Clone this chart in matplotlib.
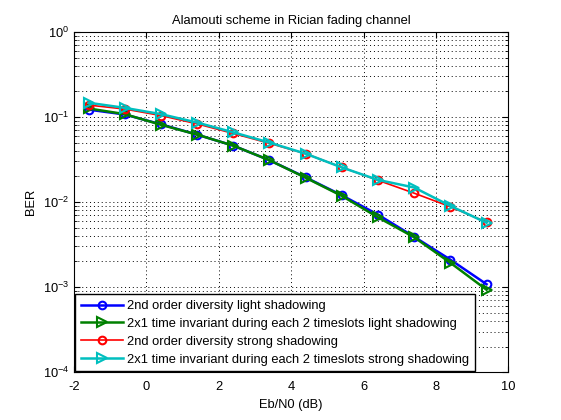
import matplotlib
matplotlib.use("Agg")
import matplotlib.pyplot as plt
from matplotlib.ticker import LogLocator, NullFormatter, FixedLocator

plt.rcParams.update({
    "font.family": ["Liberation Sans", "DejaVu Sans"],
    "font.size": 9.3,
    "mathtext.default": "regular",
    "axes.unicode_minus": False,
    "xtick.direction": "in",
    "ytick.direction": "in",
    "xtick.top": True,
    "ytick.right": True,
    "ytick.minor.size": 2.5,
    "xtick.major.size": 4,
    "ytick.major.size": 4,
    "xtick.major.pad": 6.5,
})

ebn0 = [-1.6, -0.6, 0.4, 1.4, 2.4, 3.4, 4.4, 5.4, 6.4, 7.4, 8.4, 9.4]
ber_div_light = [0.122, 0.107, 0.082, 0.062, 0.046, 0.031, 0.0195, 0.0120, 0.0071, 0.0039, 0.0021, 0.00108]
ber_alam_light = [0.126, 0.108, 0.081, 0.062, 0.046, 0.031, 0.0193, 0.0118, 0.0066, 0.00385, 0.00193, 0.00093]
ber_div_strong = [0.138, 0.124, 0.104, 0.083, 0.064, 0.049, 0.037, 0.0256, 0.018, 0.0127, 0.0088, 0.0058]
ber_alam_strong = [0.147, 0.128, 0.108, 0.086, 0.066, 0.050, 0.037, 0.0255, 0.0182, 0.0148, 0.0090, 0.0057]

labels = [
    "2nd order diversity light shadowing",
    "2x1 time invariant during each 2 timeslots light shadowing",
    "2nd order diversity strong shadowing",
    "2x1 time invariant during each 2 timeslots strong shadowing",
]

fig = plt.figure(figsize=(5.61, 4.2), dpi=100)
ax = fig.add_axes([0.132, 0.114, 0.774, 0.81])

ax.semilogy(ebn0, ber_div_light, "-o", color=(0, 0, 1), lw=1.8, ms=5.5,
            mfc="none", mew=1.5, label=labels[0])
ax.semilogy(ebn0, ber_alam_light, "->", color=(0, 0.5, 0), lw=1.8, ms=7,
            mfc="none", mew=1.5, label=labels[1])
ax.semilogy(ebn0, ber_div_strong, "-o", color=(1, 0, 0), lw=1.2, ms=5.5,
            mfc="none", mew=1.5, label=labels[2])
ax.semilogy(ebn0, ber_alam_strong, "->", color=(0, 0.75, 0.75), lw=1.8, ms=7,
            mfc="none", mew=1.5, label=labels[3])

ax.set_xlim(-2, 10)
ax.set_ylim(1e-4, 1e0)
ax.xaxis.set_major_locator(FixedLocator([-2, 0, 2, 4, 6, 8, 10]))
ax.yaxis.set_major_locator(LogLocator(base=10, numticks=10))
ax.yaxis.set_minor_locator(LogLocator(base=10, subs=range(2, 10), numticks=20))
ax.yaxis.set_minor_formatter(NullFormatter())

ax.grid(True, which="major", color="k", ls=(0, (1, 3)), lw=0.7)
ax.grid(True, which="minor", axis="y", color="k", ls=(0, (1, 3)), lw=0.7)

ax.set_xlabel("Eb/N0 (dB)")
ax.set_ylabel("BER")
ax.set_title("Alamouti scheme in Rician fading channel", fontsize=9.3)

leg = ax.legend(loc="lower left", numpoints=1, fancybox=False, framealpha=1,
                edgecolor="k", borderaxespad=0.05, handlelength=3.3,
                handletextpad=0.3, labelspacing=0.45, borderpad=0.45)
leg.get_frame().set_linewidth(1.0)

fig.savefig("out.png", dpi=100)
